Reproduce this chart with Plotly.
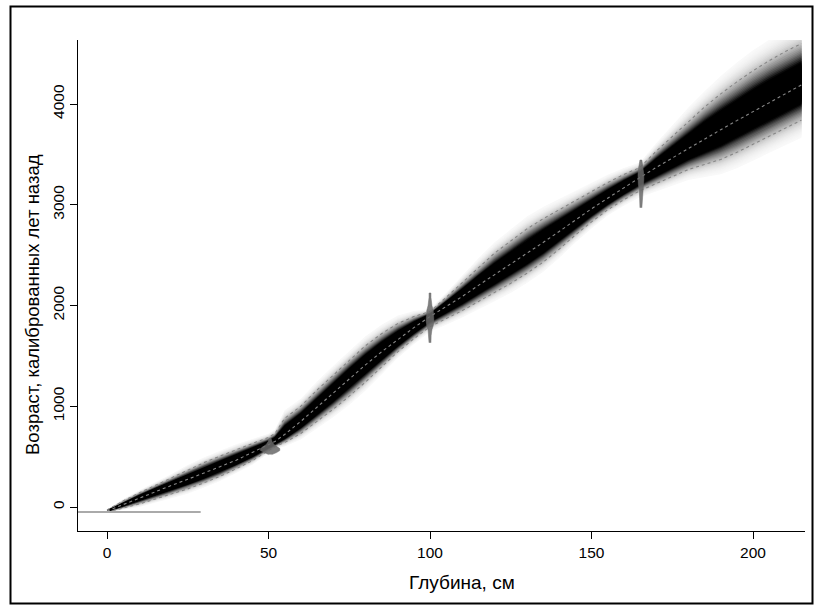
import numpy as np
import plotly.graph_objects as go

# ---------------- data ----------------
depth = [0, 5, 10, 15, 20, 25, 30, 35, 40, 45, 50, 52, 55, 60, 65, 70, 75, 80, 85, 90,
         95, 100, 105, 110, 115, 120, 125, 130, 135, 140, 145, 150, 155, 160, 165, 170,
         175, 180, 185, 190, 195, 200, 205, 210, 215]
age_mean = [-40, 25, 90, 155, 215, 275, 335, 400, 465, 540, 615, 650, 720, 850, 990, 1130,
            1275, 1410, 1540, 1660, 1780, 1890, 1990, 2090, 2200, 2305, 2410, 2515, 2625,
            2735, 2850, 2960, 3065, 3170, 3270, 3370, 3465, 3560, 3655, 3745, 3835, 3925,
            4015, 4100, 4190]
age_upper = [-30, 60, 140, 215, 290, 370, 440, 505, 570, 630, 690, 730, 880, 1000, 1160,
             1310, 1460, 1600, 1720, 1820, 1890, 1940, 2080, 2230, 2380, 2520, 2640, 2760,
             2860, 2950, 3040, 3130, 3220, 3300, 3370, 3530, 3680, 3830, 3970, 4100, 4220,
             4330, 4430, 4520, 4600]
age_lower = [-50, -10, 30, 80, 130, 180, 240, 305, 380, 460, 560, 600, 640, 730, 850, 970,
             1100, 1240, 1390, 1540, 1670, 1790, 1870, 1950, 2040, 2130, 2220, 2320, 2430,
             2560, 2700, 2830, 2950, 3050, 3140, 3210, 3280, 3350, 3400, 3450, 3520, 3600,
             3680, 3760, 3840]

# dated levels: depth, ages and half-widths (cm) of the drawn calibrated distributions
date1_depth = 50.5
date1_ages = [520, 540, 560, 580, 600, 620, 650, 680]
date1_hw = [0.5, 2.0, 3.0, 3.0, 2.2, 1.2, 0.6, 0.3]
date2_depth = 100
date2_ages = [1630, 1700, 1760, 1800, 1850, 1900, 1950, 2000, 2040, 2080, 2124]
date2_hw = [0.3, 0.35, 0.6, 1.0, 1.2, 1.1, 1.0, 0.6, 0.4, 0.3, 0.3]
date3_depth = 165.3
date3_ages = [2970, 3050, 3100, 3150, 3200, 3250, 3300, 3350, 3400, 3444]
date3_hw = [0.3, 0.35, 0.4, 0.5, 0.8, 0.9, 0.9, 0.8, 0.5, 0.3]

surface_age = -50
surface_depths = [-9, 29]

x_ticks = [0, 50, 100, 150, 200]
y_ticks = [0, 1000, 2000, 3000, 4000]
x_title = "Глубина, см"
y_title = "Возраст, калиброванных лет назад"

# ---------------- figure ----------------
W, H = 816, 610
L, R, T, B = 78, 805, 40, 531  # plot area in pixels


def px(xp):
    return (xp - L) / (R - L)


def py(yp):
    return (B - yp) / (B - T)


d = np.array(depth, float)
m = np.array(age_mean, float)
up = np.array(age_upper, float)
lo = np.array(age_lower, float)
s_up = np.maximum((up - m) / 2.0, 4)
s_lo = np.maximum((m - lo) / 2.0, 4)

fig = go.Figure()

# grey-scale density, drawn as nested bands (outer first)
levels = np.arange(3.0, 0.0, -0.08)
for k in levels:
    kc = k - 0.04
    dark = min(1.0, 1.8 * np.exp(-0.5 * kc * kc))
    g = int(round(255 * (1 - dark)))
    yy = np.concatenate([m + k * s_up, (m - k * s_lo)[::-1]])
    xx = np.concatenate([d, d[::-1]])
    fig.add_trace(go.Scatter(x=xx, y=yy, fill="toself", mode="lines",
                             line=dict(width=0), fillcolor=f"rgb({g},{g},{g})",
                             hoverinfo="skip", showlegend=False))

dot_col = "rgb(135,135,135)"
for arr in (age_upper, age_mean, age_lower):
    fig.add_trace(go.Scatter(x=depth, y=arr, mode="lines",
                             line=dict(color=dot_col, width=1.1, dash="dot"),
                             hoverinfo="skip", showlegend=False))

# surface line
fig.add_trace(go.Scatter(x=surface_depths, y=[surface_age, surface_age], mode="lines",
                         line=dict(color="rgb(170,170,170)", width=2),
                         hoverinfo="skip", showlegend=False))

# dates
for dd, ages, hw in ((date1_depth, date1_ages, date1_hw),
                     (date2_depth, date2_ages, date2_hw),
                     (date3_depth, date3_ages, date3_hw)):
    a = np.array(ages, float)
    h = np.array(hw, float)
    xx = np.concatenate([dd - h, (dd + h)[::-1]])
    yy = np.concatenate([a, a[::-1]])
    fig.add_trace(go.Scatter(x=xx, y=yy, fill="toself", mode="lines",
                             line=dict(width=0.5, color="rgba(105,105,105,0.9)"),
                             fillcolor="rgba(105,105,105,0.85)",
                             hoverinfo="skip", showlegend=False))

# data ranges from pixel geometry
x_per_px = 200 / (753 - 107)
y_per_px = 4000 / (507 - 104)
x_range = [(L - 107) * x_per_px, (R - 107) * x_per_px]
y_range = [(507 - B) * y_per_px, (507 - T) * y_per_px]

font_family = "Liberation Sans, Arial, sans-serif"
fig.update_layout(
    width=W, height=H,
    margin=dict(l=L, r=W - R, t=T, b=H - B, pad=0),
    paper_bgcolor="white", plot_bgcolor="white",
    font=dict(family=font_family, size=14, color="black"),
    xaxis=dict(range=x_range, tickvals=x_ticks, ticks="outside", ticklen=7,
               tickwidth=1, tickcolor="black", showline=True, linecolor="black",
               linewidth=1, showgrid=False, zeroline=False,
               tickfont=dict(size=15.5)),
    yaxis=dict(range=y_range, tickvals=y_ticks, ticks="outside", ticklen=7,
               tickwidth=1, tickcolor="black", showline=True, linecolor="black",
               linewidth=1, showgrid=False, zeroline=False, tickangle=-90,
               tickfont=dict(size=15.5)),
    annotations=[
        dict(text=x_title, x=px(462), y=py(582), xref="paper", yref="paper",
             showarrow=False, font=dict(size=19), xanchor="center", yanchor="middle"),
        dict(text=y_title, x=px(32), y=py(305), xref="paper", yref="paper",
             showarrow=False, font=dict(size=18.5), textangle=-90,
             xanchor="center", yanchor="middle"),
    ],
    shapes=[
        dict(type="rect", xref="paper", yref="paper",
             x0=px(10.5), x1=px(812.5), y0=py(603.5), y1=py(6.5),
             line=dict(color="black", width=2)),
    ],
)

fig.write_html("out.html",
               config={"displayModeBar": False},
               post_script="document.body.style.margin='0px';"
                           "document.body.style.overflow='hidden';")
